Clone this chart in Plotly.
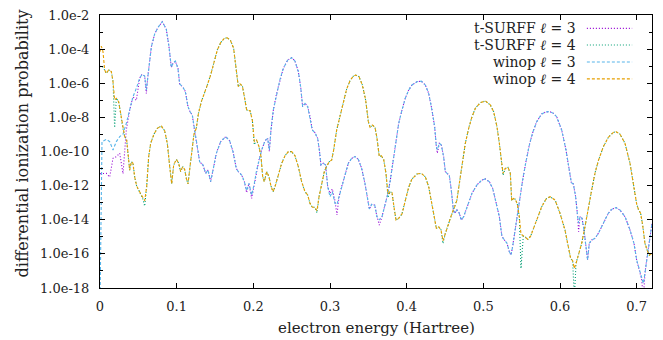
import plotly.graph_objects as go

# ---------------- data (log10 of differential ionization probability) ----------------
energy_l3 = [
    0.0, 0.0026, 0.0083, 0.0126, 0.017, 0.0213, 0.0257, 0.030,
    0.0343, 0.0387, 0.043, 0.0474, 0.0517, 0.0548, 0.0583, 0.0604,
    0.0626, 0.067, 0.0713, 0.0757, 0.0813, 0.0865, 0.090, 0.093,
    0.0952, 0.0983, 0.1017, 0.1039, 0.1083, 0.1113, 0.1148, 0.1174,
    0.1204, 0.1235, 0.1265, 0.130, 0.1343, 0.1378, 0.1409, 0.1443,
    0.1474, 0.1517, 0.1574, 0.1639, 0.1691, 0.1735, 0.1778, 0.1804,
    0.1848, 0.1883, 0.1913, 0.1943, 0.1978, 0.2013, 0.2043, 0.2074,
    0.2109, 0.2152, 0.2187, 0.2209, 0.2230, 0.2261, 0.2304, 0.2348,
    0.2391, 0.2448, 0.2500, 0.2543, 0.2587, 0.2617, 0.2643, 0.2674,
    0.2709, 0.2739, 0.2769, 0.2804, 0.2839, 0.2861, 0.2882, 0.2913,
    0.2943, 0.2970, 0.3000, 0.3030, 0.3065, 0.3091, 0.3117, 0.3152,
    0.3196, 0.3239, 0.3283, 0.3326, 0.3369, 0.3413, 0.3456, 0.3491,
    0.3513, 0.3543, 0.3583, 0.3613, 0.3643, 0.3678, 0.3722, 0.3756,
    0.3787, 0.3817, 0.3852, 0.3896, 0.3939, 0.3982, 0.4026, 0.4069,
    0.4135, 0.4191, 0.4243, 0.4287, 0.4330, 0.4365, 0.4387, 0.4400,
    0.4426, 0.4452, 0.4482, 0.4504, 0.4526, 0.4556, 0.4582, 0.4609,
    0.4626, 0.4656, 0.4687, 0.4713, 0.4743, 0.4787, 0.4852, 0.4917,
    0.4982, 0.5026, 0.5078, 0.5122, 0.5165, 0.5209, 0.5243, 0.5278,
    0.5309, 0.5339, 0.5360, 0.5382, 0.5413, 0.5443, 0.5478, 0.5513,
    0.5556, 0.5600, 0.5643, 0.5696, 0.5761, 0.5815, 0.5870, 0.5910,
    0.5956, 0.6022, 0.6078, 0.6122, 0.6148, 0.6174, 0.6204, 0.6230,
    0.6243, 0.6261, 0.6287, 0.6313, 0.6339, 0.6360, 0.6382, 0.6413,
    0.6456, 0.6500, 0.6565, 0.6630, 0.6674, 0.6730, 0.6782, 0.6848,
    0.6913, 0.6965, 0.7000, 0.7034, 0.7065, 0.7087, 0.7108, 0.7130,
    0.7165, 0.7200,
]

winop_l3_log10 = [
    -19.0, -9.42, -9.29, -9.42, -9.91, -9.42, -9.13, -8.98,
    -8.35, -7.57, -6.79, -6.30, -5.71, -5.48, -5.58, -6.40,
    -5.52, -3.86, -3.11, -2.72, -2.39, -2.84, -3.86, -5.07,
    -4.83, -4.70, -5.13, -6.04, -6.24, -6.49, -7.37, -7.67,
    -7.86, -8.84, -9.72, -10.60, -10.79, -11.28, -11.09, -11.77,
    -11.09, -10.11, -9.42, -9.13, -9.37, -10.01, -11.00, -11.18,
    -11.38, -11.77, -12.30, -11.87, -12.55, -11.87, -11.09, -10.50,
    -9.91, -9.37, -9.23, -9.91, -8.74, -7.57, -6.59, -5.77,
    -5.13, -4.64, -4.50, -4.70, -5.32, -6.20, -7.37, -7.18,
    -7.37, -7.96, -8.74, -8.90, -9.23, -9.91, -10.79, -10.69,
    -10.79, -12.06, -12.65, -12.36, -13.04, -13.10, -12.65, -12.06,
    -11.28, -10.69, -10.40, -10.30, -10.46, -10.99, -11.87, -12.84,
    -13.37, -13.10, -13.14, -13.82, -14.00, -13.82, -13.04, -12.45,
    -11.67, -10.69, -9.52, -8.35, -7.57, -6.88, -6.40, -6.10,
    -5.91, -5.88, -6.10, -6.59, -7.57, -8.55, -9.72, -9.90,
    -9.52, -9.62, -10.30, -11.18, -11.28, -11.38, -12.26, -13.43,
    -13.62, -13.43, -13.62, -14.02, -13.82, -13.24, -12.45, -11.96,
    -11.67, -11.61, -11.77, -12.16, -12.94, -13.82, -14.99, -15.19,
    -15.38, -15.87, -16.07, -15.58, -14.60, -13.62, -12.65, -11.67,
    -10.60, -9.62, -8.90, -8.25, -7.80, -7.68, -7.67, -7.75,
    -7.96, -8.74, -9.91, -11.09, -11.83, -11.90, -12.65, -13.82,
    -14.20, -13.82, -13.92, -14.60, -15.77, -16.36, -15.38, -15.19,
    -15.09, -14.80, -14.21, -13.62, -13.39, -13.29, -13.43, -13.82,
    -14.60, -15.38, -16.36, -16.95, -17.34, -17.73, -17.14, -16.36,
    -15.19, -14.21,
]

tsurff_l3_log10 = [
    -11.30, -11.30, -11.28, -11.50, -10.40, -10.30, -10.10, -11.30,
    -8.74, -7.57, -6.79, -7.00, -5.71, -5.48, -5.58, -6.60,
    -5.52, -3.86, -3.11, -2.72, -2.39, -2.84, -3.86, -5.07,
    -4.83, -4.70, -5.13, -6.04, -6.24, -6.49, -7.37, -7.67,
    -7.86, -8.84, -9.72, -10.60, -10.79, -11.28, -11.09, -11.77,
    -11.09, -10.11, -9.42, -9.13, -9.37, -10.01, -11.00, -11.18,
    -11.38, -11.77, -12.41, -11.87, -12.75, -11.87, -11.09, -10.50,
    -9.91, -9.37, -9.23, -10.00, -8.74, -7.57, -6.59, -5.77,
    -5.13, -4.64, -4.50, -4.70, -5.32, -6.20, -7.37, -7.18,
    -7.37, -7.96, -8.74, -8.90, -9.23, -9.91, -10.79, -10.69,
    -10.79, -12.06, -12.45, -12.20, -12.90, -13.72, -12.65, -12.06,
    -11.28, -10.69, -10.40, -10.30, -10.46, -10.99, -11.87, -12.84,
    -13.37, -13.10, -13.14, -13.82, -14.31, -13.82, -13.04, -12.45,
    -11.67, -10.69, -9.52, -8.35, -7.57, -6.88, -6.40, -6.10,
    -5.91, -5.88, -6.10, -6.59, -7.57, -8.55, -9.72, -10.10,
    -9.52, -9.62, -10.30, -11.18, -11.28, -11.38, -12.26, -13.43,
    -13.62, -13.43, -13.62, -14.02, -13.82, -13.24, -12.45, -11.96,
    -11.67, -11.61, -11.77, -12.16, -12.94, -13.82, -14.99, -15.19,
    -15.38, -15.87, -16.07, -15.58, -14.60, -13.62, -12.65, -11.67,
    -10.60, -9.62, -8.90, -8.25, -7.80, -7.68, -7.67, -7.75,
    -7.96, -8.74, -9.91, -11.09, -11.83, -11.90, -12.65, -13.82,
    -14.70, -13.82, -13.92, -14.60, -15.77, -16.36, -15.38, -15.19,
    -15.09, -14.80, -14.21, -13.62, -13.39, -13.29, -13.43, -13.82,
    -14.60, -15.38, -16.36, -16.95, -17.50, -18.60, -17.14, -16.36,
    -15.19, -14.21,
]

energy_l4 = [
    0.0, 0.0017, 0.0039, 0.0061, 0.0083, 0.0113, 0.0148, 0.017,
    0.0191, 0.0213, 0.0243, 0.027, 0.0291, 0.0322, 0.0348, 0.0365,
    0.0387, 0.0409, 0.043, 0.0452, 0.0478, 0.0504, 0.053, 0.0556,
    0.0583, 0.0609, 0.0635, 0.0661, 0.0704, 0.0748, 0.080, 0.0843,
    0.0878, 0.0909, 0.0935, 0.0961, 0.0996, 0.1026, 0.1052, 0.1078,
    0.1104, 0.1126, 0.1148, 0.1174, 0.120, 0.1226, 0.1256, 0.1283,
    0.1322, 0.1356, 0.140, 0.1443, 0.1487, 0.153, 0.1574, 0.1617,
    0.1656, 0.170, 0.1743, 0.1761, 0.1783, 0.1804, 0.1826, 0.1857,
    0.1883, 0.1913, 0.1957, 0.1987, 0.2013, 0.2043, 0.2074, 0.210,
    0.2122, 0.2143, 0.2174, 0.2204, 0.223, 0.2257, 0.2283, 0.2326,
    0.237, 0.2413, 0.2457, 0.250, 0.2543, 0.2587, 0.263, 0.2674,
    0.2709, 0.2739, 0.277, 0.2804, 0.283, 0.2857, 0.2891, 0.2926,
    0.2957, 0.2991, 0.3022, 0.3048, 0.3087, 0.313, 0.3174, 0.3217,
    0.3261, 0.3304, 0.3335, 0.3378, 0.3422, 0.3465, 0.350, 0.3522,
    0.3552, 0.3587, 0.3613, 0.3643, 0.3669, 0.370, 0.373, 0.3756,
    0.3782, 0.3809, 0.3835, 0.3861, 0.3896, 0.3939, 0.3982, 0.4026,
    0.4069, 0.4135, 0.4191, 0.4243, 0.4287, 0.433, 0.4365, 0.4387,
    0.4417, 0.4448, 0.4474, 0.4504, 0.4548, 0.4591, 0.4626, 0.4656,
    0.4687, 0.4722, 0.4765, 0.4809, 0.4852, 0.4896, 0.4961, 0.5026,
    0.5091, 0.5135, 0.5178, 0.5209, 0.5235, 0.5257, 0.5287, 0.5322,
    0.5352, 0.5370, 0.5391, 0.5417, 0.5443, 0.5469, 0.5491, 0.5521,
    0.5552, 0.5582, 0.5617, 0.566, 0.5704, 0.5761, 0.5817, 0.587,
    0.5935, 0.600, 0.6065, 0.6109, 0.6139, 0.6165, 0.6187, 0.6209,
    0.6239, 0.6283, 0.6326, 0.637, 0.6413, 0.6456, 0.650, 0.6565,
    0.663, 0.6696, 0.673, 0.6782, 0.6848, 0.6913, 0.6965, 0.700,
    0.7026, 0.7052, 0.7078, 0.7108, 0.7139, 0.7165, 0.720,
]

winop_l4_log10 = [
    -4.15, -3.82, -4.15, -5.22, -5.42, -5.22, -5.32, -5.91,
    -6.98, -6.88, -7.08, -7.76, -8.45, -9.13, -9.33, -10.11,
    -11.09, -10.60, -10.69, -11.48, -12.02, -12.26, -12.49, -12.65,
    -12.88, -12.06, -10.30, -9.52, -8.98, -8.64, -8.51, -8.78,
    -9.52, -10.89, -11.90, -10.79, -10.46, -10.69, -11.18, -10.89,
    -11.05, -11.57, -11.90, -10.89, -9.91, -8.98, -8.64, -7.80,
    -7.08, -6.59, -6.10, -5.52, -4.74, -4.05, -3.62, -3.39,
    -3.33, -3.47, -3.95, -4.54, -5.32, -6.20, -6.04, -6.16,
    -6.79, -7.57, -7.61, -8.16, -9.42, -9.33, -9.72, -10.30,
    -11.48, -11.77, -11.18, -11.48, -12.02, -12.36, -12.06, -11.38,
    -10.69, -10.25, -10.01, -10.01, -10.25, -10.89, -11.77, -12.36,
    -12.55, -13.04, -13.27, -13.27, -13.47, -12.65, -11.87, -11.18,
    -10.85, -10.60, -10.50, -9.91, -8.74, -7.92, -7.08, -6.34,
    -5.85, -5.58, -5.52, -5.61, -6.10, -6.98, -8.25, -8.58,
    -8.45, -8.58, -9.23, -10.30, -10.25, -10.46, -11.28, -12.49,
    -12.36, -12.41, -13.27, -14.02, -13.92, -13.66, -12.88, -12.10,
    -11.61, -11.32, -11.28, -11.48, -12.06, -13.04, -14.02, -14.50,
    -14.41, -14.60, -15.23, -14.80, -14.21, -13.62, -13.24, -12.84,
    -11.87, -10.69, -9.52, -8.64, -7.96, -7.47, -7.14, -7.04,
    -7.27, -7.67, -8.55, -9.52, -10.69, -11.28, -10.99, -10.93,
    -11.28, -12.90, -12.75, -12.80, -13.08, -13.82, -14.84, -14.96,
    -15.03, -15.15, -14.96, -14.41, -13.86, -13.24, -12.79, -12.65,
    -12.84, -13.62, -14.60, -15.58, -16.27, -16.40, -16.85, -16.56,
    -16.07, -15.38, -14.41, -13.43, -12.26, -11.28, -10.54, -9.72,
    -9.17, -8.88, -8.84, -8.98, -9.52, -10.69, -12.06, -13.08,
    -13.43, -13.62, -14.31, -15.38, -15.81, -16.07, -15.97,
]

tsurff_l4_log10 = [
    -5.03, -4.98, -5.05, -5.25, -5.42, -5.22, -5.32, -5.91,
    -8.60, -6.88, -7.08, -7.76, -8.45, -9.13, -9.33, -10.11,
    -11.09, -10.60, -10.69, -11.48, -12.02, -12.26, -12.55, -12.75,
    -13.20, -12.06, -10.30, -9.52, -8.98, -8.64, -8.51, -8.78,
    -9.52, -10.89, -11.90, -10.79, -10.46, -10.69, -11.18, -10.89,
    -11.05, -11.57, -11.90, -10.89, -9.91, -8.98, -8.64, -7.80,
    -7.08, -6.59, -6.10, -5.52, -4.74, -4.05, -3.62, -3.39,
    -3.33, -3.47, -3.95, -4.54, -5.32, -6.20, -6.04, -6.16,
    -6.79, -7.57, -7.61, -8.16, -9.60, -9.33, -9.72, -10.30,
    -11.48, -11.77, -11.18, -11.48, -12.02, -12.36, -12.06, -11.38,
    -10.69, -10.25, -10.01, -10.01, -10.25, -10.89, -11.77, -12.36,
    -12.55, -13.04, -13.27, -13.27, -13.60, -12.65, -11.87, -11.18,
    -10.85, -10.60, -10.50, -9.91, -8.74, -7.92, -7.08, -6.34,
    -5.85, -5.58, -5.52, -5.61, -6.10, -6.98, -8.25, -8.58,
    -8.45, -8.58, -9.23, -10.30, -10.25, -10.46, -11.28, -12.70,
    -12.36, -12.41, -13.27, -14.02, -13.92, -13.66, -12.88, -12.10,
    -11.61, -11.32, -11.28, -11.48, -12.06, -13.04, -14.02, -14.50,
    -14.41, -14.60, -15.40, -14.80, -14.21, -13.62, -13.24, -12.84,
    -11.87, -10.69, -9.52, -8.64, -7.96, -7.47, -7.14, -7.04,
    -7.27, -7.67, -8.55, -9.52, -10.69, -11.40, -10.99, -10.93,
    -11.28, -12.90, -12.75, -12.80, -13.08, -13.82, -16.85, -14.96,
    -15.03, -15.15, -14.96, -14.41, -13.86, -13.24, -12.79, -12.65,
    -12.84, -13.62, -14.60, -15.58, -16.27, -16.40, -18.60, -16.56,
    -16.07, -15.38, -14.41, -13.43, -12.26, -11.28, -10.54, -9.72,
    -9.17, -8.88, -8.84, -8.98, -9.52, -10.69, -12.06, -13.08,
    -13.43, -13.62, -14.31, -15.38, -15.81, -16.07, -15.97,
]

NB = "\u00a0"
series_names = [f"t-SURFF <i>ℓ</i>{NB}={NB}3", f"t-SURFF <i>ℓ</i>{NB}={NB}4",
                f"winop <i>ℓ</i>{NB}={NB}3", f"winop <i>ℓ</i>{NB}={NB}4"]

y_tick_exponents = [-18, -16, -14, -12, -10, -8, -6, -4, -2]
y_tick_labels = ["1.0e-18", "1.0e-16", "1.0e-14", "1.0e-12", "1.0e-10",
                 "1.0e-8", "1.0e-6", "1.0e-4", "1.0e-2"]
y_minor_exponents = [-17, -15, -13, -11, -9, -7, -5, -3]
x_tick_values = [0, 0.1, 0.2, 0.3, 0.4, 0.5, 0.6, 0.7]
x_tick_labels = ["0", "0.1", "0.2", "0.3", "0.4", "0.5", "0.6", "0.7"]

assert len(energy_l3) == len(winop_l3_log10) == len(tsurff_l3_log10)
assert len(energy_l4) == len(winop_l4_log10) == len(tsurff_l4_log10)

# ---------------- styling ----------------
FONT = "DejaVu Serif"
TXT = "#222222"
colors = ["#9400d3", "#009e73", "#56b4e9", "#e69f00"]
dashes = ["1px,2px", "1px,2px", "3px,2px", "3px,2px"]

series = [
    (energy_l3, tsurff_l3_log10),
    (energy_l4, tsurff_l4_log10),
    (energy_l3, winop_l3_log10),
    (energy_l4, winop_l4_log10),
]

fig = go.Figure()
for (xs, logs), name, col, dsh in zip(series, series_names, colors, dashes):
    fig.add_trace(go.Scatter(
        x=xs, y=[10.0 ** v for v in logs], mode="lines", name=name,
        line=dict(color=col, width=1.1, dash=dsh), showlegend=False,
    ))

# gnuplot-like key: text right-aligned, sample to its right
row_y = [0.951, 0.890, 0.828, 0.766]
for name, col, dsh, yy in zip(series_names, colors, dashes, row_y):
    fig.add_annotation(xref="paper", yref="paper", x=0.866, y=yy,
                       text=name, showarrow=False, xanchor="right",
                       yanchor="middle", font=dict(family=FONT, size=14, color=TXT))
    fig.add_shape(type="line", xref="paper", yref="paper",
                  x0=0.882, x1=0.964, y0=yy, y1=yy,
                  line=dict(color=col, width=1.1, dash=dsh))

fig.update_xaxes(
    range=[0, 0.72], tickvals=x_tick_values, ticktext=x_tick_labels,
    ticks="inside", ticklen=5, tickcolor="black", showline=True,
    linecolor="black", linewidth=1, mirror="ticks", showgrid=False,
    zeroline=False, ticklabelstandoff=6, automargin=False,
    tickfont=dict(family=FONT, size=13, color=TXT),
)
fig.update_yaxes(
    type="log", range=[-18, -2],
    tickvals=[10.0 ** e for e in y_tick_exponents], ticktext=y_tick_labels,
    ticks="inside", ticklen=5, tickcolor="black", showline=True,
    linecolor="black", linewidth=1, mirror="ticks", showgrid=False,
    zeroline=False, ticklabelstandoff=7, automargin=False,
    minor=dict(tickvals=[10.0 ** e for e in y_minor_exponents],
               ticks="inside", ticklen=3, tickcolor="black", showgrid=False),
    tickfont=dict(family=FONT, size=13, color=TXT),
)

fig.add_annotation(xref="paper", yref="paper", x=0.5, y=-0.148,
                   text="electron energy (Hartree)", showarrow=False,
                   xanchor="center", yanchor="middle",
                   font=dict(family=FONT, size=15, color=TXT))
fig.add_annotation(xref="paper", yref="paper", x=-0.141, y=0.53,
                   text="differential ionization probability", showarrow=False,
                   textangle=-90, xanchor="center", yanchor="middle",
                   font=dict(family=FONT, size=16, color=TXT))

fig.update_layout(
    width=663, height=340, autosize=False,
    margin=dict(l=100, r=11, t=15, b=52),
    paper_bgcolor="white", plot_bgcolor="white",
    showlegend=False,
)

fig.write_html(
    "out.html",
    config={"displayModeBar": False},
    post_script="document.body.style.margin='0';document.body.style.padding='0';",
)
